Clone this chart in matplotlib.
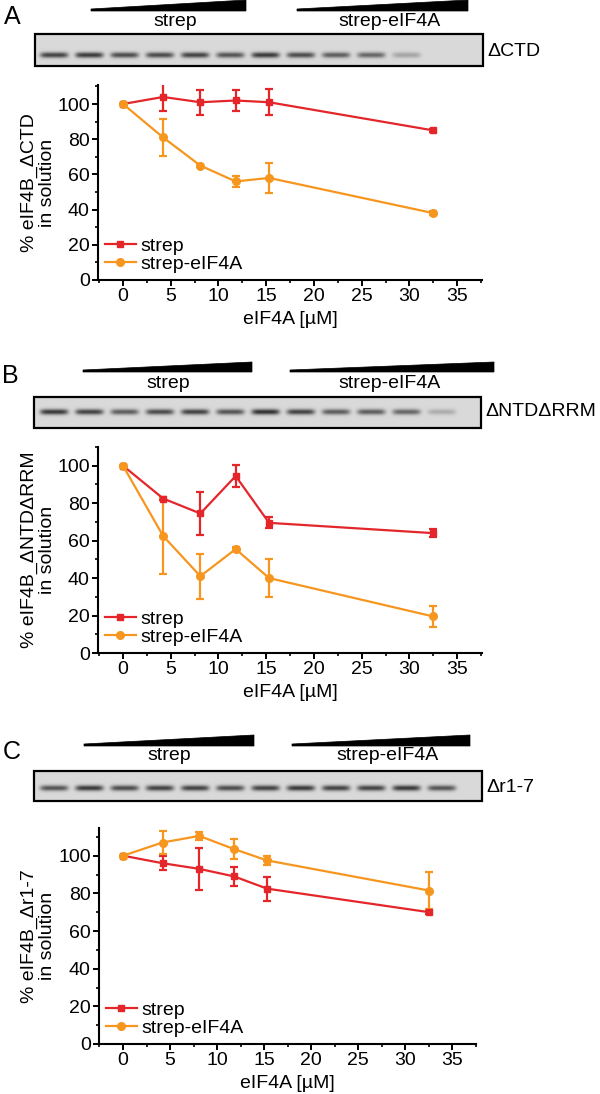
import numpy as np
import matplotlib
matplotlib.use('Agg')
import matplotlib.pyplot as plt
from matplotlib.patches import Polygon, Rectangle
from matplotlib.lines import Line2D

plt.rcParams['font.family'] = ['Liberation Sans', 'DejaVu Sans']

# ---------------- data ----------------
conc = [0, 4.2, 8.1, 11.8, 15.3, 32.5]
series_labels = ['strep', 'strep-eIF4A']

a_strep = [100, 104, 101, 102, 101, 85]
a_strep_err = [0, 8, 7, 6, 7.5, 1]
a_eif = [100, 81, 65, 56, 58, 38]
a_eif_err = [0, 10.5, 1, 3, 8.5, 1]

b_strep = [100, 82.5, 74.5, 94.5, 69.5, 64]
b_strep_err = [0, 1, 11.5, 6, 3, 2]
b_eif = [100, 62.5, 41, 55.5, 40, 19.5]
b_eif_err = [0, 20.5, 12, 1, 10, 5.5]

c_strep = [100, 96, 93, 89, 82.5, 70]
c_strep_err = [0, 3.8, 11.3, 5, 6.4, 1]
c_eif = [100, 107, 110.5, 103.5, 97.5, 81.5]
c_eif_err = [0, 6, 2, 5.5, 2.5, 10]

xticks = [0, 5, 10, 15, 20, 25, 30, 35]
xminor = [-2.5, 2.5, 7.5, 12.5, 17.5, 22.5, 27.5, 32.5, 37.5]
yticks = [0, 20, 40, 60, 80, 100]
yminor = [10, 30, 50, 70, 90, 110]
xlabel = 'eIF4A [µM]'
ylabels = ['% eIF4B_ΔCTD\nin solution',
           '% eIF4B_ΔNTDΔRRM\nin solution',
           '% eIF4B_Δr1-7\nin solution']
band_labels = ['ΔCTD', 'ΔNTDΔRRM', 'Δr1-7']
panel_letters = ['A', 'B', 'C']

# relative band intensities of the 12 gel lanes (6 strep, 6 strep-eIF4A)
a_bands = [0.85, 0.9, 0.8, 0.8, 0.85, 0.75, 0.9, 0.8, 0.7, 0.65, 0.3, 0.0]
b_bands = [0.9, 0.85, 0.7, 0.8, 0.85, 0.75, 0.95, 0.85, 0.7, 0.7, 0.65, 0.25]
c_bands = [0.75, 0.9, 0.8, 0.85, 0.85, 0.8, 0.85, 0.9, 0.85, 0.85, 0.9, 0.75]

RED = '#E4262B'
ORANGE = '#F7961F'

# ---------------- layout (pixels) ----------------
W, H = 600, 1094
fig = plt.figure(figsize=(W / 100, H / 100), dpi=100)
ov = fig.add_axes([0, 0, 1, 1])
ov.set_axis_off()
ov.patch.set_visible(False)

panels = [
    dict(ax=(98, 482, 85, 280), xlim=(-2.62, 37.6), ylim=(0, 110.8),
         blot=(35, 483, 34, 66), bandfrac=0.66, tri=[(91, 246), (297, 468)], tri_y=(0, 11),
         lab_y=22, lab_x=(175, 390), letter=(12, 17), band_lab=(487, 52),
         strep=(a_strep, a_strep_err), eif=(a_eif, a_eif_err), bands=a_bands),
    dict(ax=(98, 482, 447, 653), xlim=(-2.62, 37.6), ylim=(0, 105.1),
         blot=(34, 481, 397, 428), bandfrac=0.48, tri=[(83, 252), (290, 494)], tri_y=(362, 372),
         lab_y=383, lab_x=(168, 390), letter=(10, 376), band_lab=(485, 412),
         strep=(b_strep, b_strep_err), eif=(b_eif, b_eif_err), bands=b_bands),
    dict(ax=(99, 476, 828, 1044), xlim=(-2.55, 37.4), ylim=(0, 114.7),
         blot=(34, 482, 771, 801), bandfrac=0.57, tri=[(84, 254), (292, 470)], tri_y=(735, 746),
         lab_y=756, lab_x=(169, 388), letter=(12, 752), band_lab=(486, 788),
         strep=(c_strep, c_strep_err), eif=(c_eif, c_eif_err), bands=c_bands),
]

FS = 14


def px_axes(l, r, t, b):
    return fig.add_axes([l / W, 1 - b / H, (r - l) / W, (b - t) / H])


for i, p in enumerate(panels):
    # --- gel blot ---
    x0, x1, y0, y1 = p['blot']
    bw, bh = (x1 - x0) * 2, (y1 - y0) * 2
    xx = np.linspace(x0, x1, bw)[None, :]
    yy = np.linspace(y0, y1, bh)[:, None]
    img = np.full((bh, bw), 0.85)
    yc = y0 + p['bandfrac'] * (y1 - y0)
    n = len(p['bands'])
    centers = np.linspace(54, 442, n)
    for cx, a in zip(centers, p['bands']):
        prof = np.exp(-0.5 * ((yy - yc) / 2.0) ** 2) * np.exp(-((xx - cx) / 14.0) ** 6)
        img = img - 0.7 * a * prof
    ov.imshow(np.clip(img, 0, 1), cmap='gray', vmin=0, vmax=1,
              extent=(x0, x1, y1, y0), aspect='auto', interpolation='bilinear', zorder=1)
    ov.add_patch(Rectangle((x0, y0), x1 - x0, y1 - y0, fill=False, lw=1.6,
                           edgecolor='black', zorder=2))
    ov.text(p['band_lab'][0], p['band_lab'][1], band_labels[i], fontsize=FS,
            ha='left', va='center')
    # --- wedges ---
    ty_top, ty_bot = p['tri_y']
    for (tx0, tx1) in p['tri']:
        ov.add_patch(Polygon([(tx0, ty_bot), (tx1, ty_bot), (tx1, ty_top), (tx0, ty_bot - 2)],
                             closed=True, facecolor='black', edgecolor='black', lw=0.5))
    for lx, lab in zip(p['lab_x'], series_labels):
        ov.text(lx, p['lab_y'], lab, fontsize=FS, ha='center', va='center')
    ov.text(p['letter'][0], p['letter'][1], panel_letters[i], fontsize=18,
            ha='center', va='center')

    # --- data plot ---
    l, r, t, b = p['ax']
    ax = px_axes(l, r, t, b)
    ys, es = p['strep']
    ax.errorbar(conc, ys, yerr=es, fmt='-s', color=RED, ms=5, lw=1.6, elinewidth=1.6,
                capsize=3, capthick=1.6, zorder=3)
    ys, es = p['eif']
    ax.errorbar(conc, ys, yerr=es, fmt='-o', color=ORANGE, ms=5.5, lw=1.6, elinewidth=1.6,
                capsize=3, capthick=1.6, zorder=3)
    ax.set_xlim(*p['xlim'])
    ax.set_ylim(*p['ylim'])
    ax.set_xticks(xticks)
    ax.set_xticks(xminor, minor=True)
    ax.set_yticks(yticks)
    ax.set_yticks(yminor, minor=True)
    for s in ['top', 'right']:
        ax.spines[s].set_visible(False)
    for s in ['left', 'bottom']:
        ax.spines[s].set_linewidth(1.5)
    ax.tick_params(which='major', direction='out', length=4, width=1.4,
                   labelsize=FS, pad=2)
    ax.tick_params(which='minor', direction='out', length=2.5, width=1.2)
    ax.patch.set_visible(False)
    ax.set_xlabel(xlabel, fontsize=FS, labelpad=4)
    ax.set_ylabel(ylabels[i], fontsize=FS, multialignment='center', linespacing=1.1)
    ax.yaxis.set_label_coords((56 - l) / (r - l), 0.5)
    handles = [Line2D([], [], color=RED, marker='s', ms=5, lw=1.6),
               Line2D([], [], color=ORANGE, marker='o', ms=5.5, lw=1.6)]
    ax.legend(handles, series_labels, loc='lower left', bbox_to_anchor=(0.0, 0.0),
              frameon=False, fontsize=FS, handlelength=1.6, handletextpad=0.25,
              labelspacing=0.05, borderaxespad=0.15, borderpad=0.2)

ov.set_xlim(0, W)
ov.set_ylim(H, 0)

fig.savefig('out.png', dpi=100)
